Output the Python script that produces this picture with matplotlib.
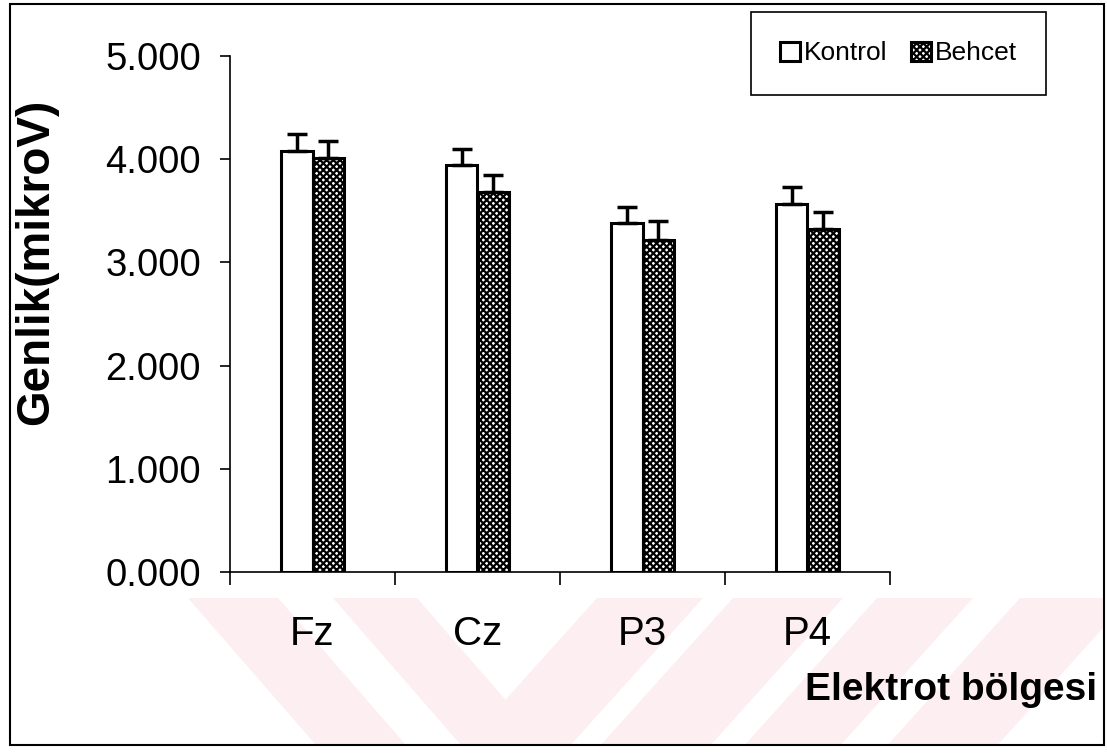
import numpy as np
import matplotlib
matplotlib.use("Agg")
import matplotlib.pyplot as plt
from matplotlib.ticker import FormatStrFormatter, FixedLocator
from matplotlib.patches import Polygon, Rectangle

plt.rcParams['font.family'] = ['Liberation Sans', 'DejaVu Sans']
plt.rcParams['hatch.linewidth'] = 1.6

categories = ['Fz', 'Cz', 'P3', 'P4']
kontrol = [4.08, 3.94, 3.38, 3.57]
kontrol_err = [0.16, 0.16, 0.155, 0.16]
behcet = [4.01, 3.68, 3.22, 3.32]
behcet_err = [0.17, 0.17, 0.18, 0.17]

W, H = 1107, 753
fig = plt.figure(figsize=(W / 100, H / 100), dpi=100)


def px(x, y):
    # figure pixel (from top-left) -> figure fraction
    return x / W, 1 - y / H


# faint pink watermark stripes in the lower band
wm = '#fdeef1'
y0, y1 = 598, 745
down_right = [(188, 278), (333, 417)]
up_right = [(597, 703), (733, 843), (877, 973), (1020, 1130)]
for a, b in down_right:
    d = 0.87 * (y1 - y0)
    pts = [px(a, y0), px(b, y0), px(b + d, y1), px(a + d, y1)]
    fig.patches.append(Polygon(pts, closed=True, transform=fig.transFigure,
                               facecolor=wm, edgecolor='none', zorder=-5))
for a, b in up_right:
    d = 0.9 * (y1 - y0)
    pts = [px(a, y0), px(b, y0), px(b - d, y1), px(a - d, y1)]
    fig.patches.append(Polygon(pts, closed=True, transform=fig.transFigure,
                               facecolor=wm, edgecolor='none', zorder=-5))
fig.patches.append(Polygon([px(1104, y0), px(1107, y0), px(1107, y1), px(1104, y1)],
                           closed=True, transform=fig.transFigure,
                           facecolor='white', edgecolor='none', zorder=-4))

# outer frame
fx0, fy0 = px(10, 745)
fx1, fy1 = px(1104, 4)
fig.patches.append(Rectangle((fx0, fy0), fx1 - fx0, fy1 - fy0, transform=fig.transFigure,
                             facecolor='none', edgecolor='black', linewidth=1.5, zorder=10))

ax = fig.add_axes([230 / W, 1 - 572 / H, 660 / W, 516 / H])
ax.patch.set_alpha(0)

x = np.arange(len(categories))
w = 0.19
ax.bar(x - w / 2, kontrol, w, color='white', edgecolor='black', linewidth=2.2,
       yerr=[np.zeros(4), kontrol_err], capsize=7,
       error_kw=dict(elinewidth=2.5, capthick=2.5, ecolor='black'), label='Kontrol')
ax.bar(x + w / 2, behcet, w, color='white', edgecolor='black', linewidth=2.2, hatch='xxxxx',
       yerr=[np.zeros(4), behcet_err], capsize=7,
       error_kw=dict(elinewidth=2.5, capthick=2.5, ecolor='black'), label='Behcet')

ax.set_xlim(-0.5, 3.5)
ax.set_ylim(0, 5)
ax.set_yticks([0, 1, 2, 3, 4, 5])
ax.yaxis.set_major_formatter(FormatStrFormatter('%.3f'))
ax.set_xticks(x)
ax.set_xticklabels(categories)
ax.xaxis.set_minor_locator(FixedLocator([-0.5, 0.5, 1.5, 2.5, 3.5]))
ax.tick_params(axis='x', which='major', length=0, pad=31, labelsize=29)
ax.tick_params(axis='x', which='minor', length=9, width=1.2, direction='out')
ax.tick_params(axis='y', length=7, width=1.2, pad=14, labelsize=27.5)
for s in ['top', 'right']:
    ax.spines[s].set_visible(False)
ax.spines['left'].set_linewidth(1.2)
ax.spines['bottom'].set_linewidth(1.2)

fig.text(36 / W, 1 - 262 / H, 'Genlik(mikroV)', rotation=90, fontsize=33,
         fontweight='bold', ha='center', va='center')
fig.text(1097 / W, 1 - 690 / H, 'Elektrot bölgesi', fontsize=28,
         fontweight='bold', ha='right', va='center')

leg = ax.legend(loc='center', bbox_to_anchor=(751 / W, 1 - 97 / H, 295 / W, 87 / H),
                bbox_transform=fig.transFigure, mode='expand', ncol=2, fontsize=19,
                frameon=True, fancybox=False, framealpha=1, edgecolor='black',
                handlelength=0.75, handleheight=0.75, handletextpad=0.15,
                columnspacing=1.2, borderpad=1.1, borderaxespad=0)
leg.get_frame().set_linewidth(1.2)

fig.savefig('out.png', dpi=100)
